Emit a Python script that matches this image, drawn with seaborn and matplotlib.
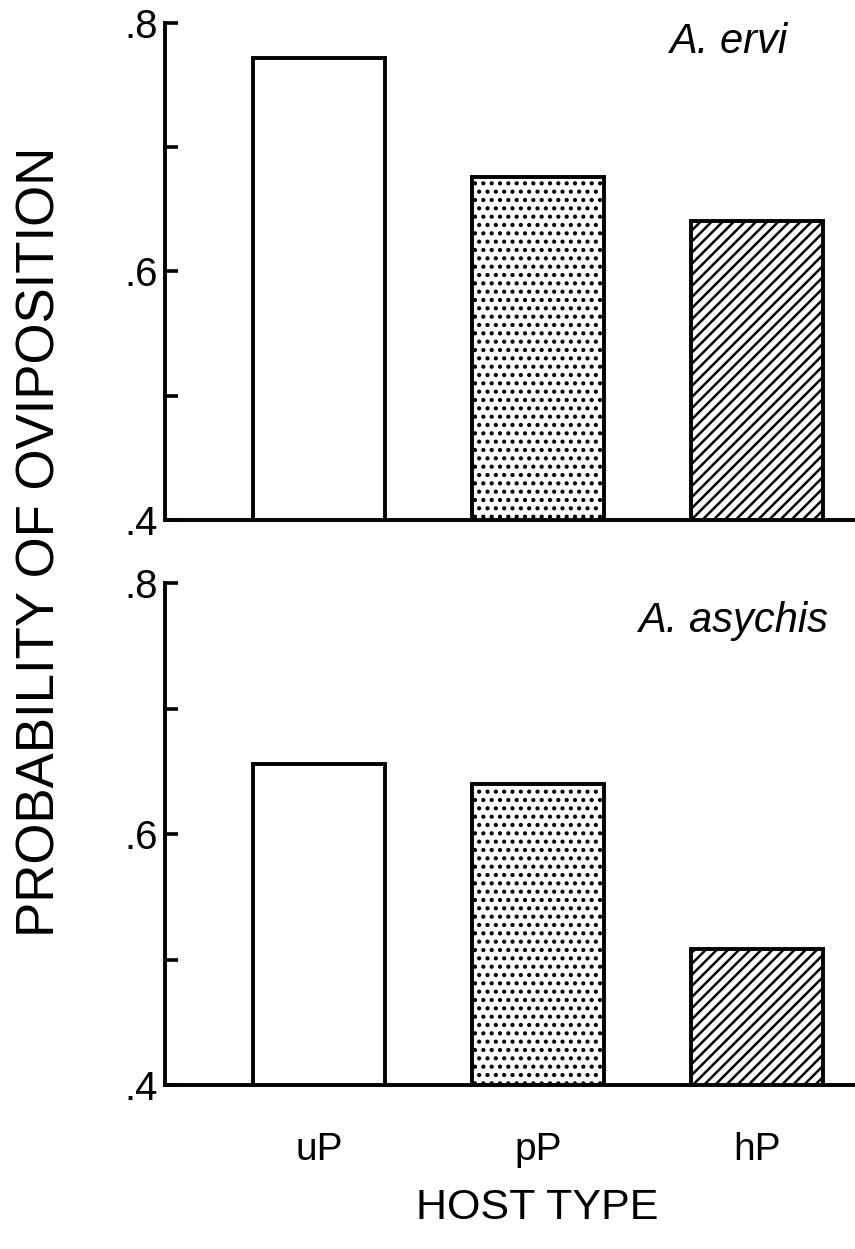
import matplotlib
matplotlib.use("Agg")
import matplotlib.pyplot as plt
from matplotlib import font_manager as fm
from matplotlib.ticker import FixedLocator, FixedFormatter
import pandas as pd
import seaborn as sns

# Probability of oviposition by host type for the two parasitoid species
host_types = ["uP", "pP", "hP"]
ervi_prob = [0.772, 0.676, 0.641]
asychis_prob = [0.656, 0.640, 0.508]
species_names = ["A. ervi", "A. asychis"]
major_ticks = [0.4, 0.6, 0.8]
major_labels = [".4", ".6", ".8"]
minor_ticks = [0.5, 0.7]
bar_hatches = ["", "..", "///"]

sns.set_theme(style="white")
installed = {f.name for f in fm.fontManager.ttflist}
narrow = "Liberation Sans Narrow" if "Liberation Sans Narrow" in installed else "Liberation Sans"
plt.rcParams["font.family"] = ["Liberation Sans", "DejaVu Sans"]
plt.rcParams["hatch.linewidth"] = 1.8
plt.rcParams["hatch.color"] = "black"

fig = plt.figure(figsize=(8.55, 12.49), dpi=100)
ax_top = fig.add_axes([0.193, 0.5837, 0.807, 0.3979])
ax_bot = fig.add_axes([0.193, 0.1313, 0.807, 0.4019])


def draw_panel(ax, values, name, name_x, name_y, show_xlabels):
    df = pd.DataFrame({"host": host_types, "prob": values})
    sns.barplot(data=df, x="host", y="prob", ax=ax, color="white",
                saturation=1, width=0.6, edgecolor="black", linewidth=2.8)
    for patch, hatch in zip(ax.patches, bar_hatches):
        patch.set_hatch(hatch)
    ax.set_xlim(-0.703, 2.447)
    ax.set_ylim(0.4, 0.8)
    ax.set_xlabel("")
    ax.set_ylabel("")
    sns.despine(ax=ax)
    for side in ("left", "bottom"):
        ax.spines[side].set_linewidth(2.8)
        ax.spines[side].set_color("black")
    ax.yaxis.set_major_locator(FixedLocator(major_ticks))
    ax.yaxis.set_major_formatter(FixedFormatter(major_labels))
    ax.yaxis.set_minor_locator(FixedLocator(minor_ticks))
    ax.tick_params(axis="y", which="both", direction="in", left=True,
                   length=9, width=2.6, color="black")
    ax.tick_params(axis="y", which="major", labelsize=29, pad=5,
                   labelcolor="black")
    ax.tick_params(axis="x", length=0, labelsize=28, pad=34,
                   labelcolor="black", labelbottom=show_xlabels)
    for lab in ax.get_xticklabels():
        lab.set_fontfamily(narrow)
    ax.text(name_x, name_y, name, transform=ax.transAxes, ha="right",
            va="baseline", fontsize=30, style="italic", color="black")


draw_panel(ax_top, ervi_prob, species_names[0], 0.901, 0.94, False)
draw_panel(ax_bot, asychis_prob, species_names[1], 0.961, 0.902, True)

fig.text(0.047, 0.566, "PROBABILITY OF OVIPOSITION", rotation=90,
         ha="center", va="center", fontsize=38, family=narrow, color="black")
fig.text(0.628, 0.033, "HOST TYPE", ha="center", va="center",
         fontsize=31, family=narrow, color="black")

fig.savefig("out.png", dpi=100, facecolor="white")
